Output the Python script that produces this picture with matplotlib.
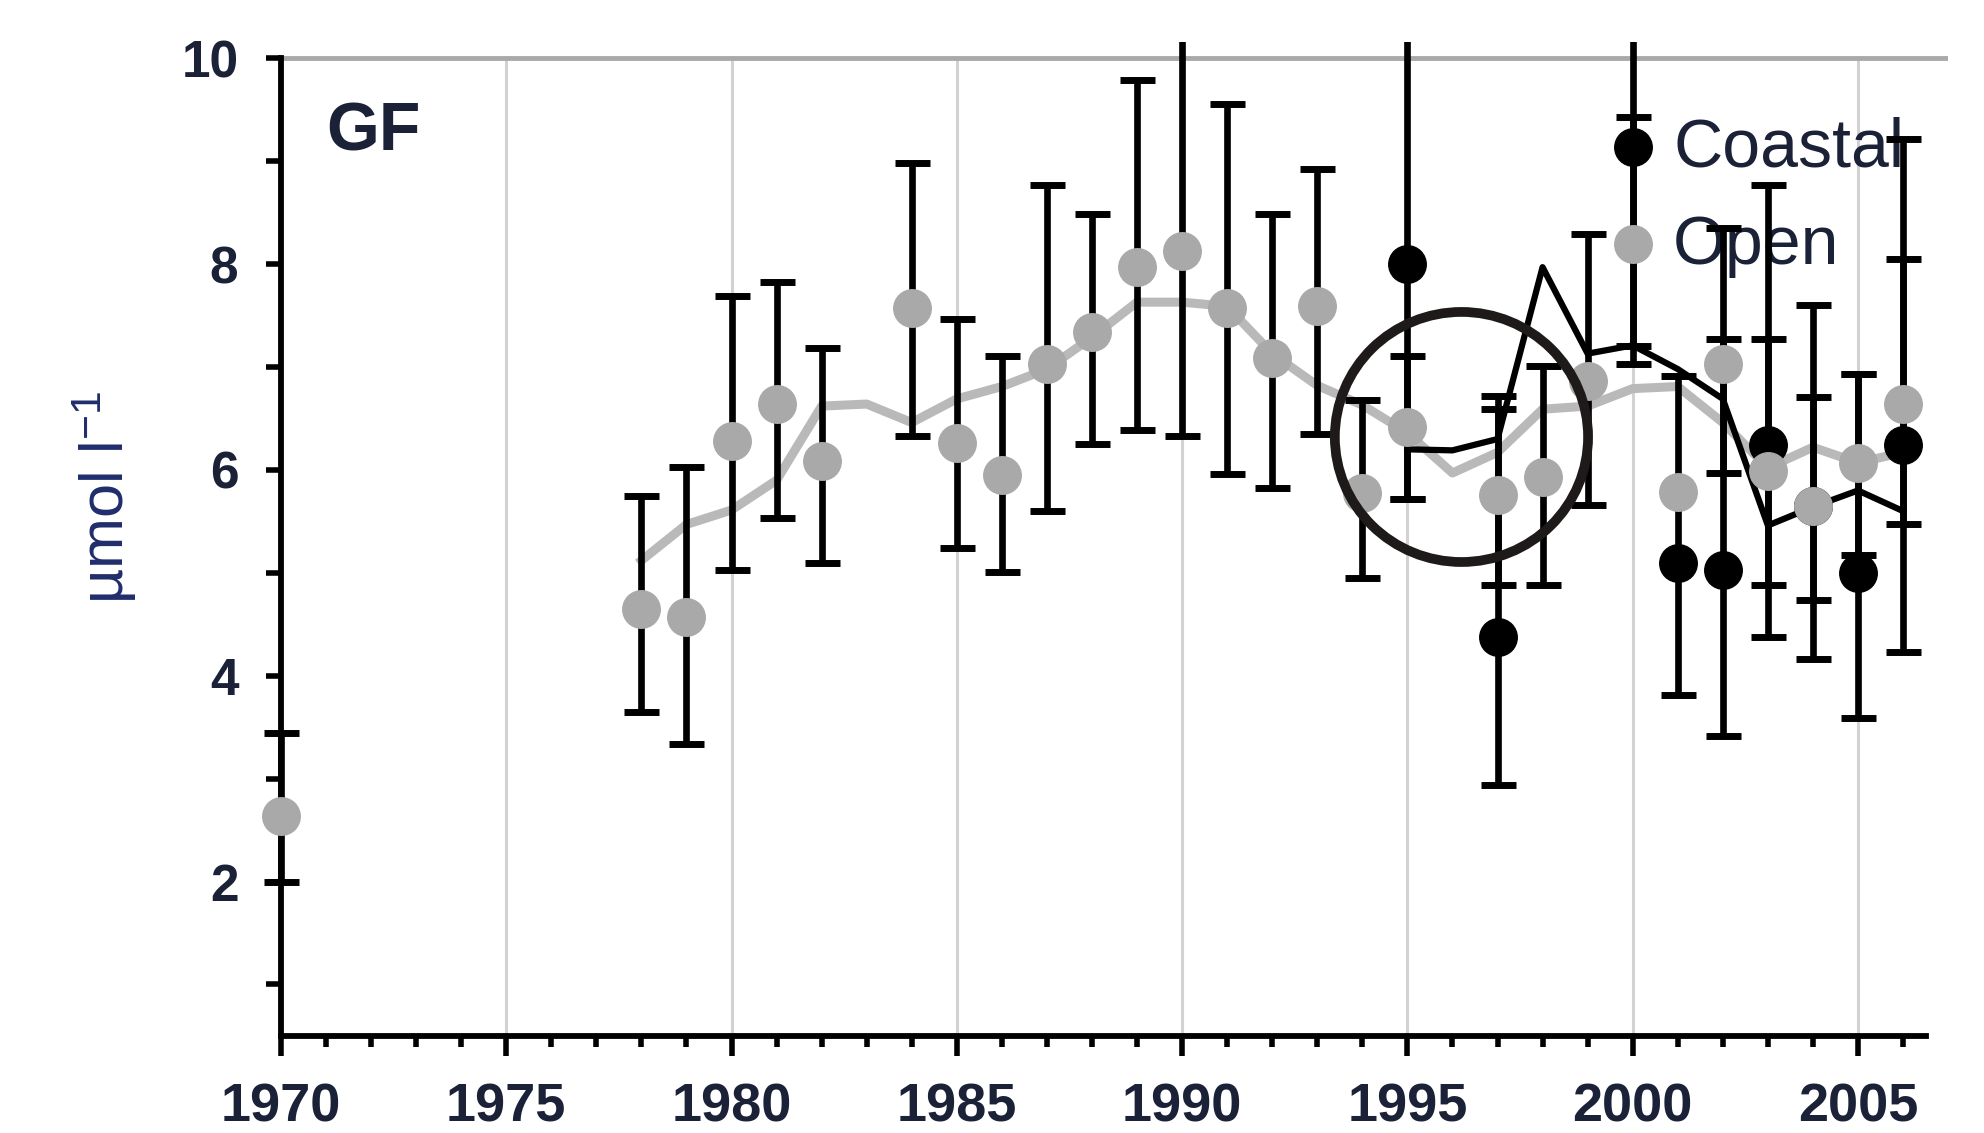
import matplotlib
matplotlib.use("Agg")
import matplotlib.pyplot as plt
import numpy as np
from matplotlib.patches import Ellipse, Rectangle

plt.rcParams["font.family"] = ["Liberation Sans", "DejaVu Sans"]
plt.rcParams["mathtext.fontset"] = "custom"
plt.rcParams["mathtext.rm"] = "Liberation Sans"
plt.rcParams["mathtext.it"] = "Liberation Sans:italic"

# --- data --------------------------------------------------------------------
# open-sea stations: yearly value and the ends of its bar (nan = no bar drawn)
open_years = [1970, 1978, 1979, 1980, 1981, 1982, 1984, 1985, 1986, 1987, 1988,
              1989, 1990, 1991, 1992, 1993, 1994, 1995, 1997, 1998, 1999, 2000,
              2001, 2002, 2003, 2004, 2005, 2006]
open_val = [2.64, 4.65, 4.57, 6.28, 6.64, 6.09, 7.57, 6.26, 5.95, 7.03, 7.34,
            7.97, 8.13, 7.57, 7.09, 7.59, 5.78, 6.42, 5.76, 5.93, 6.86, 8.20,
            5.79, 7.03, 5.99, 5.65, 6.07, 6.64]
open_low = [2.00, 3.65, 3.34, 5.03, 5.53, 5.10, 6.33, 5.24, 5.01, 5.60, 6.25,
            6.39, 6.33, 5.96, 5.82, 6.35, 4.95, 5.72, 4.88, 4.88, 5.66, 7.03,
            np.nan, 5.97, 4.88, 4.74, 5.17, 5.47]
open_high = [3.44, 5.75, 6.03, 7.69, 7.83, 7.18, 8.98, 7.47, 7.11, 8.77, 8.49,
             9.79, 10.6, 9.56, 8.49, 8.92, 6.68, 7.11, 6.59, 7.01, 8.29, 9.43,
             np.nan, 8.35, 7.27, 6.71, 6.93, 8.05]

# coastal stations
coastal_years = [1995, 1997, 2000, 2001, 2002, 2003, 2004, 2005, 2006]
coastal_val = [8.00, 4.38, 9.14, 5.10, 5.03, 6.24, 5.65, 5.00, 6.24]
coastal_low = [5.72, 2.94, 7.20, 3.81, 3.41, 4.38, 4.16, 3.59, 4.23]
coastal_high = [10.6, 6.72, 10.6, 6.91, 7.27, 8.77, 7.60, 6.93, 9.22]

# smoothed trend lines
open_trend_years = list(range(1978, 2007))
open_trend = [5.12, 5.47, 5.61, 5.90, 6.62, 6.64, 6.46, 6.69, 6.81, 6.98, 7.29,
              7.63, 7.63, 7.59, 7.13, 6.82, 6.63, 6.36, 5.97, 6.17, 6.59, 6.62,
              6.79, 6.81, 6.46, 6.02, 6.22, 6.07, 6.17]
coastal_trend_years = list(range(1995, 2007))
coastal_trend = [6.20, 6.19, 6.30, 7.97, 7.13, 7.21, 6.98, 6.69, 5.46, 5.64,
                 5.80, 5.60]

TEXT = "#1b2238"


def bars(val, low, high):
    val, low, high = map(np.asarray, (val, low, high))
    return np.vstack([val - low, high - val])


def main() -> None:
    fig = plt.figure(figsize=(19.84, 11.33), dpi=100)
    ax = fig.add_axes([0.1416, 0.0857, 0.8403, 0.8774])
    ax.set_xlim(1970, 2007)
    ax.set_ylim(0.5, 10.16)

    # frame: only left/bottom axes, grey line on top, light vertical grid
    for side in ("top", "right"):
        ax.spines[side].set_visible(False)
    ax.spines["left"].set_bounds(0.5, 10)
    ax.spines["bottom"].set_bounds(1970, 2006.5)
    for side in ("left", "bottom"):
        ax.spines[side].set_linewidth(4.2)
    ax.hlines(10, 1970, 2007, color="#a9a9a9", lw=3.5, zorder=0.6)
    ax.vlines(range(1975, 2006, 5), 0.5, 10, color="#d2d2d2", lw=2.2, zorder=0.5)

    ax.set_xticks(range(1970, 2006, 5))
    ax.set_xticks(range(1970, 2007), minor=True)
    ax.set_yticks([2, 4, 6, 8, 10])
    ax.set_yticks([1, 3, 5, 7, 9], minor=True)
    ax.tick_params(axis="x", which="major", length=14.5, width=4, pad=19,
                   labelsize=39, labelcolor=TEXT)
    ax.tick_params(axis="x", which="minor", length=8, width=4)
    ax.tick_params(axis="y", which="both", length=10.6, width=4, pad=20,
                   labelsize=37, labelcolor=TEXT)
    for lab in ax.get_xticklabels() + ax.get_yticklabels():
        lab.set_fontweight("bold")

    # bars and markers may spill over the left axis but are cut just above 10
    clip = Rectangle((1960, -1), 60, 11.16, transform=ax.transData)

    style = dict(fmt="o", ms=27, ecolor="black", elinewidth=4.8, capsize=12.6,
                 capthick=5)
    ax.plot(open_trend_years, open_trend, color="#b9b9b9", lw=6.5,
            solid_joinstyle="round", zorder=2)
    ax.plot(coastal_trend_years, coastal_trend, color="black", lw=4.5, zorder=2.5)
    eb_c = ax.errorbar(coastal_years, coastal_val,
                       yerr=bars(coastal_val, coastal_low, coastal_high),
                       color="black", mec="black", zorder=3, **style)
    eb_o = ax.errorbar(open_years, open_val,
                       yerr=bars(open_val, open_low, open_high),
                       color="#a9a9a9", mec="#a9a9a9", zorder=4, **style)
    for eb in (eb_c, eb_o):
        for art in [eb.lines[0], *eb.lines[1], *eb.lines[2]]:
            art.set_clip_path(clip)

    # labels next to the 2000 points act as the key
    ax.text(2000.9, 8.95, "Coastal", fontsize=49, color=TEXT, zorder=1)
    ax.text(2000.9, 8.0, "Open", fontsize=49, color=TEXT, zorder=1)
    ax.text(1971.0, 9.28, "GF", fontsize=49, fontweight="bold", color=TEXT,
            va="center", ha="left")

    ax.set_ylabel(r"µmol l$^{-1}$", fontsize=44, color="#1f2d6b")
    ax.yaxis.set_label_coords(-0.085, 0.542)

    ax.add_patch(Ellipse((1996.2, 6.32), width=5.62, height=2.43, fill=False,
                         edgecolor="#1e1a1a", lw=7, zorder=10, clip_on=False))

    fig.savefig("out.png", dpi=100)


if __name__ == "__main__":
    main()
